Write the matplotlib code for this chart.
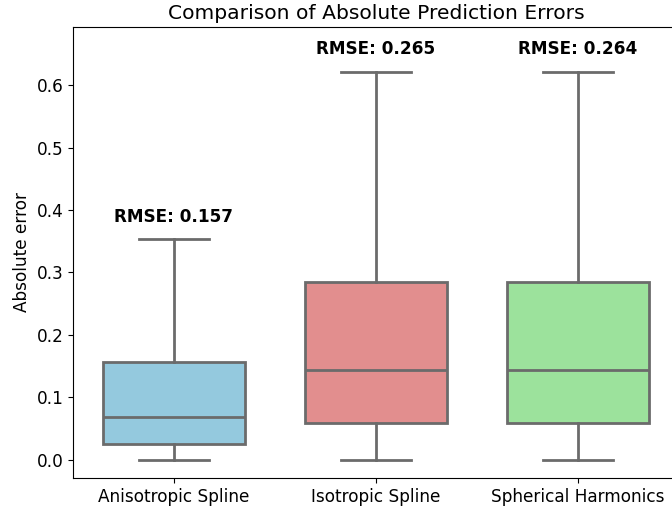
import numpy as np
import matplotlib
matplotlib.use("Agg")
from matplotlib import pyplot as plt
import seaborn as sns

methods = ["Anisotropic Spline", "Isotropic Spline", "Spherical Harmonics"]
whislo = [0.0, 0.0, 0.0]
q1 = [0.025, 0.059, 0.059]
med = [0.069, 0.144, 0.144]
q3 = [0.156, 0.284, 0.284]
whishi = [0.353, 0.621, 0.621]
rmse = [0.157, 0.265, 0.264]
colors = ["skyblue", "lightcoral", "lightgreen"]

fig = plt.figure(figsize=(6.72, 5.13), dpi=100)
ax = fig.add_axes([73/672, 35/513, 606/672, 451/513])

stats = []
for i in range(len(methods)):
    stats.append(dict(label=methods[i], whislo=whislo[i], q1=q1[i], med=med[i],
                      q3=q3[i], whishi=whishi[i], fliers=[]))

line_col = "#6b6b6b"
bp = ax.bxp(stats, positions=np.arange(len(methods)), widths=0.7, patch_artist=True,
            showfliers=False,
            boxprops=dict(edgecolor=line_col, linewidth=2),
            medianprops=dict(color=line_col, linewidth=2),
            whiskerprops=dict(color=line_col, linewidth=2),
            capprops=dict(color=line_col, linewidth=2),
            capwidths=0.35)
for patch, c in zip(bp["boxes"], colors):
    patch.set_facecolor(sns.desaturate(c, 0.75))

for i in range(len(methods)):
    ax.text(i, whishi[i] + 0.022, "RMSE: %.3f" % rmse[i], ha="center", va="bottom",
            fontsize=12.2, fontweight="bold")

ax.set_xlim(-0.5, 2.5)
ax.set_ylim(-0.029, 0.693)
ax.set_xticks(np.arange(len(methods)))
ax.set_xticklabels(methods, fontsize=12.2)
ax.tick_params(axis="y", labelsize=12.2)
ax.set_ylabel("Absolute error", fontsize=12.2)
ax.set_title("Comparison of Absolute Prediction Errors", fontsize=14.6)

fig.savefig("out.png", dpi=100)
